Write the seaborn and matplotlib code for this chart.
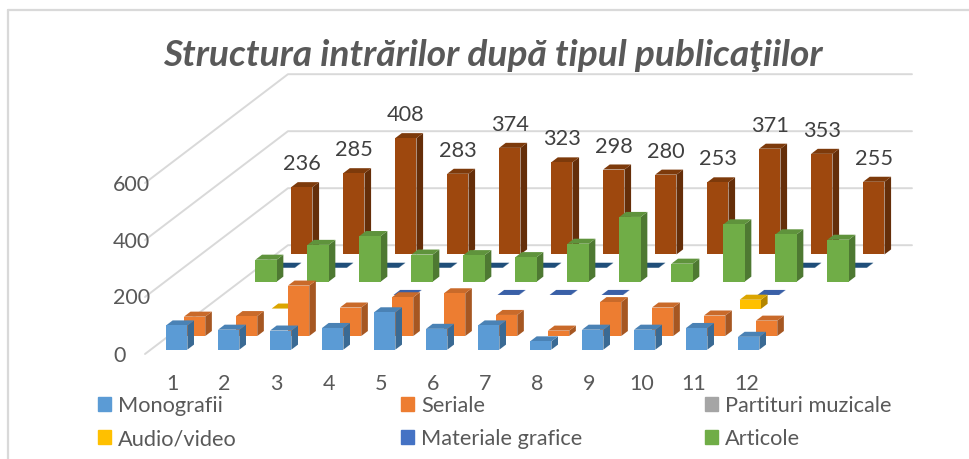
import pandas as pd
import seaborn as sns
import matplotlib.pyplot as plt
from matplotlib.patches import Patch

luni = [1, 2, 3, 4, 5, 6, 7, 8, 9, 10, 11, 12]
monografii = [85, 70, 67, 76, 131, 73, 85, 29, 70, 70, 76, 45]
seriale = [68, 70, 177, 100, 136, 150, 74, 19, 119, 100, 72, 54]
partituri = [0, 0, 0, 0, 0, 0, 0, 0, 0, 0, 0, 0]
audio_video = [0, 1, 0, 0, 0, 0, 0, 0, 0, 0, 32, 0]
materiale = [0, 0, 0, 1, 0, 1, 1, 1, 0, 0, 1, 0]
articole = [77, 129, 160, 95, 93, 86, 133, 227, 63, 201, 166, 147]
# two more rows are drawn in the chart but the legend does not name them
rand_7 = [1, 1, 1, 1, 1, 1, 1, 1, 0, 0, 1, 1]
rand_8 = [236, 285, 408, 283, 374, 323, 298, 280, 253, 371, 353, 255]
y_ticks = [0, 200, 400, 600]

# front, side, top colour of each row
culori = [
    (monografii, '#5B9BD5', '#3A6A94', '#4A82B5'),
    (seriale, '#ED7D31', '#A65722', '#C96A2A'),
    (partituri, '#A5A5A5', '#737373', '#8C8C8C'),
    (audio_video, '#FFC000', '#B38600', '#DBA500'),
    (materiale, '#4472C4', '#2F5089', '#3A60A7'),
    (articole, '#70AD47', '#4E7932', '#5F933C'),
    (rand_7, '#264478', '#1F4E79', '#1F4E79'),
    (rand_8, '#9E480E', '#652E09', '#7D3A0B'),
]

W, H = 969, 459
PX_X = 52.0       # pixels per month
PX_Y = 0.285      # pixels per unit of value
X0, Y0 = 145, 354  # front left corner of the floor
SKEW_X = 17.87 / PX_X  # shift per row
SKEW_Y = 13.6 / PX_Y
BAR_W = 0.41
D_FRONT, D_BACK = 0.32, 0.69

sns.set_theme(style='white')
plt.rcParams['font.family'] = ['Lato', 'DejaVu Sans']

fig = plt.figure(figsize=(W / 100, H / 100), dpi=100)
ax = fig.add_axes([0, 0, 1, 1])

# back wall and side wall grid
n_rows = len(culori)
for v in y_ticks:
    xs = [0.5, 0.5 + n_rows * SKEW_X, 12.5 + n_rows * SKEW_X]
    ys = [v, v + n_rows * SKEW_Y, v + n_rows * SKEW_Y]
    ax.plot(xs, ys, color='#D9D9D9', lw=1.4, zorder=1)

# back rows first so the front ones cover them
for r in range(n_rows - 1, -1, -1):
    vals, front, side, top = culori[r]
    z = 10 + (n_rows - r) * 2
    d = r + D_FRONT
    dx = (D_BACK - D_FRONT) * SKEW_X
    dy = (D_BACK - D_FRONT) * SKEW_Y
    base = d * SKEW_Y
    df = pd.DataFrame({'x': [m + d * SKEW_X for m in luni], 'v': vals})
    for m, v in zip(df['x'], df['v']):
        if v == 0:
            continue
        l, rr = m - BAR_W / 2, m + BAR_W / 2
        ax.fill([rr, rr + dx, rr + dx, rr], [base, base + dy, base + v + dy, base + v],
                color=side, lw=0, zorder=z)
        ax.fill([l, rr, rr + dx, l + dx], [base + v, base + v, base + v + dy, base + v + dy],
                color=top, lw=0, zorder=z)
    sns.barplot(data=df, x='x', y='v', native_scale=True, width=BAR_W, color=front,
                saturation=1, bottom=base, linewidth=0, ax=ax, zorder=z + 1)

# value labels on the last row only
d = n_rows - 1 + D_FRONT
for m, v in zip(luni, rand_8):
    ax.text(m + d * SKEW_X, v + d * SKEW_Y + 23 / PX_Y, str(v), ha='center', va='center',
            fontsize=15.7, color='#404040', zorder=40)

ax.set_xlim(0.5 - X0 / PX_X, 0.5 + (W - X0) / PX_X)
ax.set_ylim(-(H - Y0) / PX_Y, Y0 / PX_Y)
ax.axis('off')

for v in y_ticks:
    fig.text(113 / W, 1 - (355.5 - v * PX_Y) / H, str(v), ha='left', va='center', fontsize=15.5, color='#595959')
for m in luni:
    fig.text((172 + (m - 1) * 52.2) / W, 1 - 384 / H, str(m), ha='center', va='center', fontsize=15.5, color='#595959')

fig.text(493 / W, 1 - 56 / H, 'Structura intrărilor după tipul publicaţiilor', ha='center', va='center',
         fontsize=26.7, fontweight='bold', fontstyle='italic', color='#595959')

# chart frame, only top and left are in the crop
fig.add_artist(plt.Line2D([8 / W, 8 / W], [0, 1 - 10 / H], color='#D9D9D9', lw=1.6))
fig.add_artist(plt.Line2D([8 / W, 1], [1 - 10 / H, 1 - 10 / H], color='#D9D9D9', lw=1.6))

coloane = [
    (98, [('Monografii', '#5B9BD5'), ('Audio/video', '#FFC000')]),
    (401, [('Seriale', '#ED7D31'), ('Materiale grafice', '#4472C4')]),
    (705, [('Partituri muzicale', '#A5A5A5'), ('Articole', '#70AD47')]),
]
for x, intrari in coloane:
    handles = [Patch(color=c, label=t) for t, c in intrari]
    fig.legend(handles=handles, loc='upper left', bbox_to_anchor=(x / W, 1 - 396 / H), frameon=False,
               fontsize=15.7, labelcolor='#595959', handlelength=0.6, handleheight=0.6,
               handletextpad=0.32, labelspacing=0.6, borderpad=0, borderaxespad=0)

fig.savefig('out.png', dpi=100)
